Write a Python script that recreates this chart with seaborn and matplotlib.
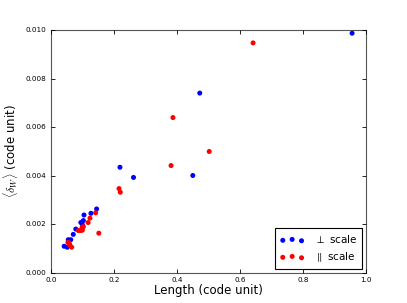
import matplotlib
matplotlib.use('Agg')
import matplotlib.pyplot as plt
import seaborn as sns
import numpy as np

# perpendicular scale (blue)
perp_length = [0.042, 0.052, 0.055, 0.063, 0.071, 0.079, 0.095, 0.100, 0.103, 0.105,
               0.127, 0.145, 0.219, 0.262, 0.450, 0.472, 0.955]
perp_dw = [0.00109, 0.00105, 0.00136, 0.00136, 0.00158, 0.00180, 0.00207, 0.00198, 0.00215, 0.00238,
           0.00245, 0.00263, 0.00435, 0.00393, 0.00401, 0.00741, 0.00988]

# parallel scale (red)
par_length = [0.054, 0.058, 0.060, 0.066, 0.087, 0.095, 0.100, 0.099, 0.103, 0.118,
              0.124, 0.142, 0.152, 0.216, 0.220, 0.381, 0.387, 0.502, 0.641]
par_dw = [0.00125, 0.00123, 0.00114, 0.00105, 0.00174, 0.00174, 0.00176, 0.00187, 0.00190, 0.00207,
          0.00225, 0.00247, 0.00163, 0.00347, 0.00332, 0.00442, 0.00640, 0.00500, 0.00948]

plt.style.use('classic')
fig, ax = plt.subplots(figsize=(4.07, 3.03), dpi=100)
fig.patch.set_facecolor('white')

sns.scatterplot(x=perp_length, y=perp_dw, color='blue', s=13, edgecolor='none',
                label=r'$\perp$ scale', ax=ax)
sns.scatterplot(x=par_length, y=par_dw, color='red', s=13, edgecolor='none',
                label=r'$\parallel$ scale', ax=ax)

ax.set_xlim(0, 1.0)
ax.set_ylim(0, 0.010)
ax.set_xticks(np.arange(0, 1.01, 0.2))
ax.set_yticks(np.arange(0, 0.0101, 0.002))
ax.xaxis.set_major_formatter(matplotlib.ticker.FormatStrFormatter('%.1f'))
ax.yaxis.set_major_formatter(matplotlib.ticker.FormatStrFormatter('%.3f'))
ax.tick_params(labelsize=5.2, length=3, width=0.6, direction='in', top=True, right=True)
ax.tick_params(axis='x', pad=3)
ax.tick_params(axis='y', pad=3)
for sp in ax.spines.values():
    sp.set_linewidth(0.8)
    sp.set_color('#555555')

ax.set_xlabel('Length (code unit)', fontsize=8.5, labelpad=1)
ax.set_ylabel(r'$\langle \delta_W \rangle$ (code unit)', fontsize=8.5, labelpad=4)

leg = ax.legend(loc='lower right', scatterpoints=3, fontsize=7.5, borderaxespad=0.4,
                handlelength=2.4, handletextpad=1.0, borderpad=0.45,
                frameon=True, fancybox=False)
leg.get_frame().set_linewidth(0.8)

fig.subplots_adjust(left=0.125, right=0.9, bottom=0.1, top=0.9)
fig.savefig('out.png', dpi=100, facecolor='white')
